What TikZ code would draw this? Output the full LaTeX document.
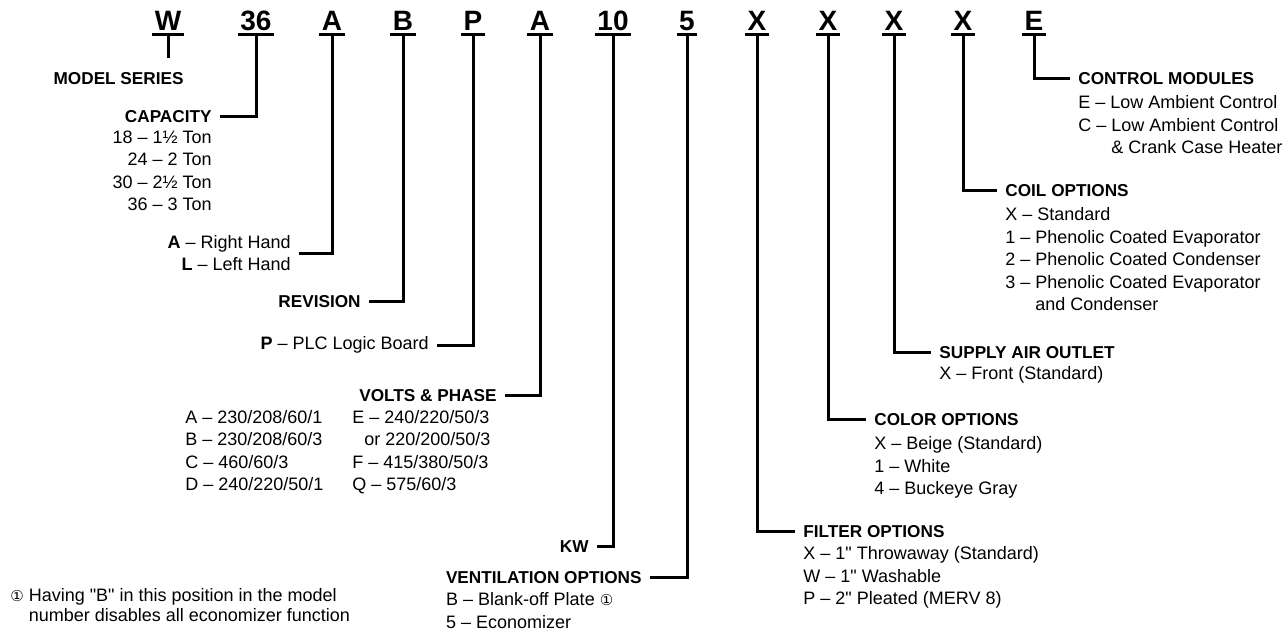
\documentclass[tikz,border=0pt]{standalone}
\usepackage{fontspec}
\setmainfont{Liberation Sans}
\newfontfamily\circfont{DejaVu Sans}
\newfontfamily\quotefont{Liberation Sans}[Ligatures=TeXOff]
\usetikzlibrary{positioning}

\newcommand{\circone}{{\circfont\fontsize{7.5}{7.5}\selectfont ①}}
\newcommand{\inch}{{\quotefont"}}

\begin{document}
\begin{tikzpicture}[x=0.5pt, y=-0.5pt,
    lead/.style={line width=1.5pt},
    code/.style={font=\bfseries\fontsize{14}{14}\selectfont, anchor=south, inner xsep=1pt, inner ysep=1.5pt, text depth=0pt},
    head/.style={font=\bfseries\fontsize{8.6}{10}\selectfont, inner xsep=4pt, inner ysep=0pt, text height=6.2pt, text depth=0pt},
    body/.style={font=\fontsize{9}{11.25}\selectfont, inner xsep=4pt, inner ysep=0pt}]

  \useasboundingbox (0,0) rectangle (1287,634);

  \node[code] (cW) at (168,34) {W};
  \node[code] (cCap) at (256,34) {36};
  \node[code] (cHand) at (332,34) {A};
  \node[code] (cRev) at (403,34) {B};
  \node[code] (cBoard) at (473,34) {P};
  \node[code] (cVolt) at (540,34) {A};
  \node[code] (cKw) at (613,34) {10};
  \node[code] (cVent) at (687,34) {5};
  \node[code] (cFilt) at (757,34) {X};
  \node[code] (cColor) at (828,34) {X};
  \node[code] (cAir) at (894,34) {X};
  \node[code] (cCoil) at (963,34) {X};
  \node[code] (cMod) at (1034,34) {E};

  \draw[lead] (cW.south west) -- (cW.south east) (cCap.south west) -- (cCap.south east)
    (cHand.south west) -- (cHand.south east) (cRev.south west) -- (cRev.south east)
    (cBoard.south west) -- (cBoard.south east) (cVolt.south west) -- (cVolt.south east)
    (cKw.south west) -- (cKw.south east) (cVent.south west) -- (cVent.south east)
    (cFilt.south west) -- (cFilt.south east) (cColor.south west) -- (cColor.south east)
    (cAir.south west) -- (cAir.south east) (cCoil.south west) -- (cCoil.south east)
    (cMod.south west) -- (cMod.south east);

  \node[head, anchor=east] (series) at (192,78) {MODEL SERIES};
  \node[head, anchor=east] (cap) at (220,116) {CAPACITY};
  \node[body, below=3.9pt of cap.south east, anchor=north east, align=right] (capList)
    {18 -- 1½ Ton\\24 -- 2 Ton\\30 -- 2½ Ton\\36 -- 3 Ton};
  \node[body, anchor=east, align=right] (hand) at (299,253)
    {\textbf{A} -- Right Hand\\\textbf{L} -- Left Hand};
  \node[head, anchor=east] (rev) at (369,301) {REVISION};
  \node[body, anchor=east] (board) at (437,345) {\textbf{P} -- PLC Logic Board};
  \node[head, anchor=east] (volts) at (505,395) {VOLTS \& PHASE};
  \node[body, anchor=north west, align=left] (voltsA) at (177,410)
    {A -- 230/208/60/1\\B -- 230/208/60/3\\C -- 460/60/3\\D -- 240/220/50/1};
  \node[body, anchor=north west, align=left] (voltsB) at (344,410)
    {E -- 240/220/50/3\\\phantom{E}or 220/200/50/3\\F -- 415/380/50/3\\Q -- 575/60/3};
  \node[head, anchor=east] (kw) at (597,546) {KW};
  \node[head, anchor=east] (vent) at (650,577) {VENTILATION OPTIONS};
  \node[body, below=4.4pt of vent.south west, anchor=north west, align=left] (ventList)
    {B -- Blank-off Plate \circone\\5 -- Economizer};
  \node[body, font=\fontsize{9}{10}\selectfont, anchor=north west, align=left] (note) at (2,588)
    {\circone\ Having \inch B\inch\ in this position in the model\\\phantom{\circone\ }number disables all economizer function};

  \node[head, anchor=west] (ctrl) at (1070,78) {CONTROL MODULES};
  \node[body, below=5.4pt of ctrl.south west, anchor=north west, align=left] (ctrlList)
    {E -- Low Ambient Control\\C -- Low Ambient Control\\\phantom{C -- }\& Crank Case Heater};
  \node[head, anchor=west] (coil) at (997,190) {COIL OPTIONS};
  \node[body, below=5.4pt of coil.south west, anchor=north west, align=left] (coilList)
    {X -- Standard\\1 -- Phenolic Coated Evaporator\\2 -- Phenolic Coated Condenser\\3 -- Phenolic Coated Evaporator\\\phantom{3 -- }and Condenser};
  \node[head, anchor=west] (air) at (931,352) {SUPPLY AIR OUTLET};
  \node[body, below=3.9pt of air.south west, anchor=north west, align=left] (airList)
    {X -- Front (Standard)};
  \node[head, anchor=west] (color) at (866,419) {COLOR OPTIONS};
  \node[body, below=5.4pt of color.south west, anchor=north west, align=left] (colorList)
    {X -- Beige (Standard)\\1 -- White\\4 -- Buckeye Gray};
  \node[head, anchor=west] (filt) at (795,531) {FILTER OPTIONS};
  \node[body, below=4.4pt of filt.south west, anchor=north west, align=left] (filtList)
    {X -- 1\inch\ Throwaway (Standard)\\W -- 1\inch\ Washable\\P -- 2\inch\ Pleated (MERV 8)};

  \draw[lead, shorten >=6.5pt] (cW.south) -- (cW.south |- series.north);
  \draw[lead] (cCap.south) |- (cap.east);
  \draw[lead] (cHand.south) |- (hand.east);
  \draw[lead] (cRev.south) |- (rev.east);
  \draw[lead] (cBoard.south) |- (board.east);
  \draw[lead] (cVolt.south) |- (volts.east);
  \draw[lead] (cKw.south) |- (kw.east);
  \draw[lead] (cVent.south) |- (vent.east);
  \draw[lead] (cFilt.south) |- (filt.west);
  \draw[lead] (cColor.south) |- (color.west);
  \draw[lead] (cAir.south) |- (air.west);
  \draw[lead] (cCoil.south) |- (coil.west);
  \draw[lead] (cMod.south) |- (ctrl.west);
\end{tikzpicture}
\end{document}
